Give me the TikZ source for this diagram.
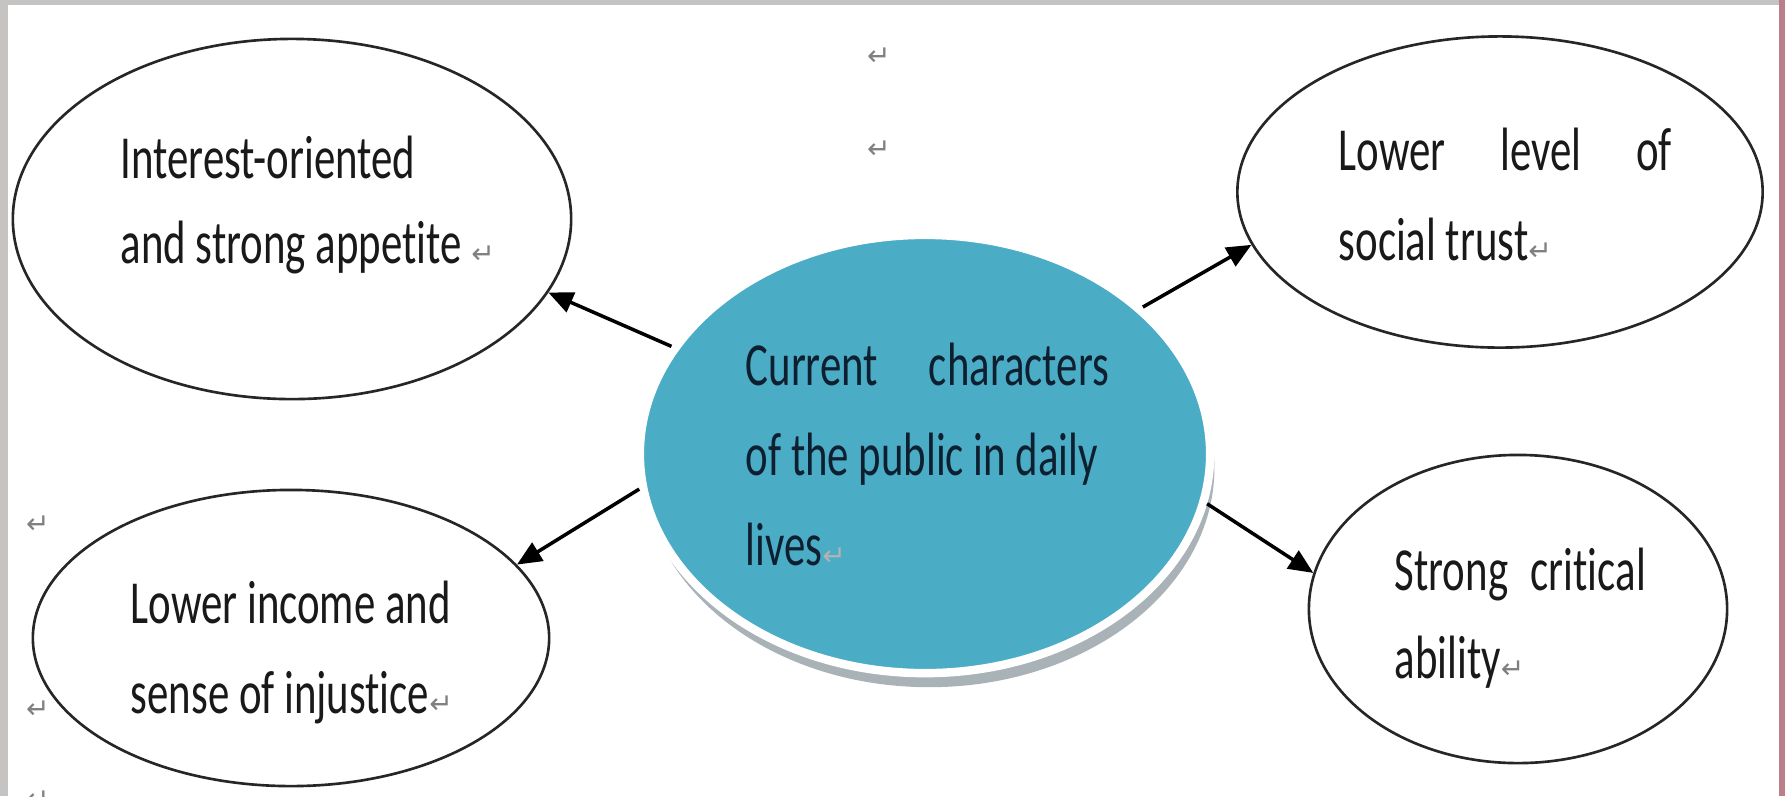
\documentclass[tikz,border=0pt]{standalone}
\usepackage{fontspec}
\usetikzlibrary{shapes.geometric,arrows.meta,shadows}
\newfontfamily\calib{Carlito}[FakeStretch=0.7,Ligatures=NoCommon]
\newfontfamily\dejavu{DejaVu Sans}
\definecolor{aqua}{HTML}{4BACC6}
\definecolor{framegrey}{HTML}{C6C3C3}
\definecolor{framerose}{HTML}{B98089}
\definecolor{darkink}{HTML}{0E2030}
\definecolor{shadowgrey}{HTML}{9FAAB0}
\newcommand{\retmark}{{\dejavu\fontsize{8}{8}\selectfont\color{gray}↵}}
\tikzset{bubble/.style={ellipse,draw=black!85,line width=0.75pt,fill=white,inner sep=0pt}}
\tikzset{txt/.style={anchor=base west,inner sep=0pt,text=black!90,font=\calib\fontsize{17.4}{20}\selectfont}}
\tikzset{arr/.style={line width=1pt,-{Triangle[length=7pt,width=6pt]}}}
\tikzset{retnode/.style={inner sep=0pt}}

\begin{document}
\begin{tikzpicture}[x=0.01cm,y=-0.01cm]
\useasboundingbox (0,0) rectangle (1785,796);

% frame of the slide
\fill[framegrey] (0,0) rectangle (1785,796);
\fill[framerose] (1779,0) rectangle (1785,796);
\fill[white] (8,5) rectangle (1779,796);

% outer ellipses
\node[bubble,minimum width=5.58cm,minimum height=3.6cm] (tl) at (292,219) {};
\node[bubble,minimum width=5.16cm,minimum height=2.96cm] (bl) at (291,638) {};
\node[bubble,minimum width=5.25cm,minimum height=3.11cm] (tr) at (1500,192) {};
\node[bubble,minimum width=4.18cm,minimum height=3.08cm] (br) at (1518,609) {};

% centre ellipse
\node[ellipse,fill=aqua,draw=white,line width=2.4pt,inner sep=0pt,
      minimum width=5.7cm,minimum height=4.38cm,
      drop shadow={shadow xshift=1.2pt,shadow yshift=-4pt,fill=shadowgrey,opacity=0.9}] (ctr) at (925,454) {};

% connectors
\draw[arr] (ctr.157) -- (tl.-16);
\draw[arr] (ctr.187) -- (bl.18);
\draw[arr] (ctr.34) -- (tr.192.6);
\draw[arr] (ctr.-10) -- (br.170);

% texts
\node[txt] (tla) at (120,178) {Interest-oriented};
\node[txt] (tlb) at (120,263) {and strong appetite \retmark};
\node[txt] (bla) at (130,623) {Lower income and};
\node[txt] (blb) at (130,713) {sense of injustice\retmark};
\node[txt,text=darkink] (ca) at (745,385) {\makebox[3.63cm][s]{Current characters}};
\node[txt,text=darkink] (cb) at (745,475) {of the public in daily};
\node[txt,text=darkink] (cc) at (745,565) {lives{\dejavu\fontsize{8}{8}\selectfont\color{gray!60}↵}};
\node[txt] (tra) at (1338,170) {\makebox[3.33cm][s]{Lower level of}};
\node[txt] (trb) at (1338,260) {social trust\retmark};
\node[txt] (bra) at (1394,590) {\makebox[2.51cm][s]{Strong critical}};
\node[txt] (brb) at (1394,678) {ability\retmark};

% paragraph marks
\node[retnode] (ra) at (879,57) {\retmark};
\node[retnode] (rb) at (879,150) {\retmark};
\node[retnode] (rc) at (38,525) {\retmark};
\node[retnode] (rd) at (38,710) {\retmark};
\begin{scope}
\clip (0,0) rectangle (1785,796);
\node[retnode] (re) at (38,800) {\retmark};
\end{scope}
\end{tikzpicture}
\end{document}
